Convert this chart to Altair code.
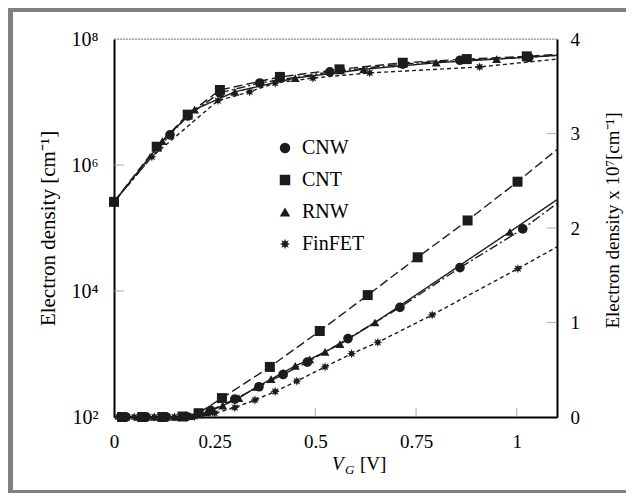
import math
import altair as alt
import pandas as pd

devices = ["CNW", "CNT", "RNW", "FinFET"]

# ---- upper curves: left logarithmic axis, electron density [cm^-1] ----
cnw_log_vg = [0.0, 0.139, 0.183, 0.263, 0.362, 0.536, 0.717, 0.859, 1.03, 1.1]
cnw_log_n = [2.6e5, 3.0e6, 6.0e6, 1.4e7, 2.0e7, 3.0e7, 4.0e7, 4.6e7, 5.1e7, 5.5e7]
cnt_log_vg = [0.0, 0.106, 0.183, 0.263, 0.412, 0.56, 0.717, 0.876, 1.025, 1.1]
cnt_log_n = [2.6e5, 1.95e6, 6.3e6, 1.55e7, 2.5e7, 3.3e7, 4.2e7, 4.8e7, 5.3e7, 5.7e7]
rnw_log_vg = [0.0, 0.12, 0.20, 0.30, 0.45, 0.62, 0.80, 0.95, 1.1]
rnw_log_n = [2.6e5, 2.4e6, 7.6e6, 1.45e7, 2.4e7, 3.3e7, 4.2e7, 4.8e7, 5.5e7]
fin_log_vg = [0.0, 0.094, 0.258, 0.337, 0.40, 0.494, 0.635, 0.908, 1.1]
fin_log_n = [2.6e5, 1.35e6, 1.05e7, 1.45e7, 2.0e7, 2.4e7, 2.9e7, 3.6e7, 4.8e7]

# ---- lower curves: right linear axis, electron density x 10^7 [cm^-1] ----
cnw_lin_vg = [0.03, 0.08, 0.13, 0.18, 0.24, 0.30, 0.36, 0.42, 0.48, 0.581, 0.710, 0.859, 1.015, 1.1]
cnw_lin_n = [0, 0, 0, 0.005, 0.07, 0.19, 0.32, 0.45, 0.58, 0.83, 1.16, 1.58, 1.99, 2.26]
cnt_lin_vg = [0.02, 0.07, 0.12, 0.17, 0.21, 0.268, 0.387, 0.511, 0.630, 0.754, 0.878, 1.002, 1.1]
cnt_lin_n = [0, 0, 0, 0.005, 0.04, 0.20, 0.53, 0.91, 1.29, 1.69, 2.08, 2.49, 2.83]
rnw_lin_vg = [0.02, 0.06, 0.10, 0.15, 0.19, 0.23, 0.27, 0.31, 0.355, 0.39, 0.42, 0.45, 0.486,
              0.524, 0.561, 0.648, 0.983, 1.1]
rnw_lin_n = [0, 0, 0, 0, 0.01, 0.05, 0.12, 0.20, 0.32, 0.40, 0.47, 0.54, 0.61,
             0.69, 0.77, 1.00, 1.96, 2.30]
fin_lin_vg = [0.01, 0.05, 0.10, 0.15, 0.20, 0.25, 0.30, 0.35, 0.40, 0.454, 0.524, 0.59,
              0.655, 0.79, 1.003, 1.1]
fin_lin_n = [0, 0, 0, 0, 0.005, 0.04, 0.10, 0.18, 0.27, 0.38, 0.53, 0.67,
             0.79, 1.08, 1.57, 1.80]

x_tick_labels = [0, 0.25, 0.5, 0.75, 1]
x_inner_ticks = [0.5, 0.75, 1.0]
left_tick_labels = [1e2, 1e4, 1e6, 1e8]
left_inner_ticks = [1e4, 1e6]
right_tick_labels = [0, 1, 2, 3, 4]
right_inner_ticks = [1, 2, 3]

# ---- layout / style ----
W, H = 443, 378
PL, PT = 106, 31
SVG_W, SVG_H = 618, 485
FONT = "Liberation Serif"
INK = "#1c1c1c"
GREY = "#808080"

rows = []
def add(dev, kind, vgs, ns):
    for v, n in zip(vgs, ns):
        rows.append({"device": dev, "dev_line": dev, "dev_size": dev, "kind": kind,
                     "vg": v, "n": n, "mk": v < 1.09})

add("CNW", "log", cnw_log_vg, cnw_log_n)
add("CNT", "log", cnt_log_vg, cnt_log_n)
add("RNW", "log", rnw_log_vg, rnw_log_n)
add("FinFET", "log", fin_log_vg, fin_log_n)
add("CNW", "lin", cnw_lin_vg, cnw_lin_n)
add("CNT", "lin", cnt_lin_vg, cnt_lin_n)
add("RNW", "lin", rnw_lin_vg, rnw_lin_n)
add("FinFET", "lin", fin_lin_vg, fin_lin_n)
df = pd.DataFrame(rows)
df_log = df[df.kind == "log"].reset_index(drop=True)
df_lin = df[df.kind == "lin"].reset_index(drop=True)

# asterisk-like star symbol
pts = []
for k in range(16):
    a = k * math.pi / 8
    r = 1.0 if k % 2 == 0 else 0.5
    pts.append(f"{r * math.sin(a):.3f},{-r * math.cos(a):.3f}")
star = "M" + "L".join(pts) + "Z"

shape_of = {"CNW": "circle", "CNT": "square", "RNW": "triangle-up", "FinFET": star}
dash_of = {"CNW": [9, 3, 2, 3], "CNT": [9, 4], "RNW": [1, 0], "FinFET": [4, 3]}
size_of = {"CNW": 80, "CNT": 100, "RNW": 90, "FinFET": 190}
# style scales use an alphabetical domain so their (hidden) legends stay separate
style_domain = sorted(devices)

x_scale = alt.Scale(domain=[0, 1.1], nice=False, zero=False)
x_axis = alt.Axis(values=x_tick_labels, labelExpr="datum.value + ''", title=None, ticks=False,
                  grid=False, domainColor="black", domainWidth=2, labelFontSize=19,
                  labelPadding=15, labelFlush=False, labelColor="black", labelFont=FONT)
X = alt.X("vg:Q", scale=x_scale, axis=x_axis)

ly_scale = alt.Scale(type="log", domain=[1e2, 1e8], nice=False)
ly_axis = alt.Axis(orient="left", values=left_tick_labels,
                   labelExpr="datum.value == 100 ? '10²' : datum.value == 10000 ? '10⁴' : datum.value == 1000000 ? '10⁶' : '10⁸'",
                   ticks=False, grid=False, domainColor="black", domainWidth=2,
                   labelFontSize=20, labelPadding=16, labelColor="black", labelFont=FONT,
                   title="Electron density [cm⁻¹]", titleFontSize=21, titleFontWeight="normal",
                   titleFont=FONT, titleColor="black", titleX=-66, titleY=H / 2,
                   titleAngle=270, titleBaseline="middle", titleAlign="center")
LY = alt.Y("n:Q", scale=ly_scale, axis=ly_axis)

ry_scale = alt.Scale(domain=[0, 4], nice=False, zero=False)
ry_axis = alt.Axis(orient="right", values=right_tick_labels, ticks=False, grid=False,
                   domainColor="black", domainWidth=2, labelFontSize=19, labelPadding=13,
                   labelColor="black", labelFont=FONT,
                   title="Electron density x 10⁷[cm⁻¹]", titleFontSize=19,
                   titleFontWeight="normal", titleFont=FONT, titleColor="black",
                   titleX=55, titleY=181, titleAngle=270, titleBaseline="middle",
                   titleAlign="center")
RY = alt.Y("n:Q", scale=ry_scale, axis=ry_axis)

legend = alt.Legend(title=None, orient="none", legendX=161, legendY=99, symbolSize=110,
                    symbolFillColor=INK, symbolStrokeColor=INK,
                    labelFont=FONT, labelFontSize=20, labelColor="black", rowPadding=12,
                    labelOffset=7, padding=0)
shape_enc = alt.Shape("device:N", scale=alt.Scale(domain=devices,
                      range=[shape_of[d] for d in devices]), legend=legend)
size_enc = alt.Size("dev_size:N", scale=alt.Scale(domain=style_domain,
                    range=[size_of[d] for d in style_domain]), legend=None)
dash_enc = alt.StrokeDash("dev_line:N", scale=alt.Scale(domain=style_domain,
                          range=[dash_of[d] for d in style_domain]), legend=None)

def lines(data, Y):
    return alt.Chart(data).mark_line(color=INK, strokeWidth=1.4).encode(
        x=X, y=Y, strokeDash=dash_enc, order="vg:Q")

def points(data, Y):
    return alt.Chart(data).transform_filter("datum.mk").mark_point(
        filled=True, opacity=1, color=INK, strokeWidth=0).encode(
        x=X, y=Y, shape=shape_enc, size=size_enc)

x_ticks = alt.Chart(pd.DataFrame({"vg": x_inner_ticks})).mark_tick(
    orient="vertical", size=9, thickness=1.2, color="#999999").encode(
    x=X, y=alt.value(H - 4.5))
l_ticks = alt.Chart(pd.DataFrame({"n": left_inner_ticks})).mark_tick(
    orient="horizontal", size=10, thickness=1.2, color="#999999").encode(
    y=LY, x=alt.value(5))
r_ticks = alt.Chart(pd.DataFrame({"n": right_inner_ticks})).mark_tick(
    orient="horizontal", size=10, thickness=1.2, color="#999999").encode(
    y=RY, x=alt.value(W - 5))

left = alt.layer(lines(df_log, LY), points(df_log, LY), l_ticks, x_ticks)
right = alt.layer(lines(df_lin, RY), points(df_lin, RY), r_ticks)

one = pd.DataFrame({"a": [0]})
top_border = alt.Chart(one).mark_rule(color="#8a8a8a", strokeWidth=1, strokeDash=[2, 1]).encode(
    x=alt.value(0), x2=alt.value(W), y=alt.value(0))
frame_left = alt.Chart(one).mark_rule(color=GREY, strokeWidth=5).encode(
    x=alt.value(-PL + 2.5), y=alt.value(-PT), y2=alt.value(SVG_H - PT))
frame_top = alt.Chart(one).mark_rule(color=GREY, strokeWidth=4).encode(
    x=alt.value(-PL), x2=alt.value(SVG_W - PL), y=alt.value(-PT + 2))
frame_bottom = alt.Chart(one).mark_rule(color=GREY, strokeWidth=3).encode(
    x=alt.value(-PL), x2=alt.value(SVG_W - PL), y=alt.value(SVG_H - PT - 1.5))

t_v = alt.Chart(one).mark_text(text="V", font=FONT, fontSize=19, fontStyle="italic",
                               align="left", baseline="alphabetic", color="black").encode(
    x=alt.value(218), y=alt.value(431))
t_g = alt.Chart(one).mark_text(text="G", font=FONT, fontSize=13, fontStyle="italic",
                               align="left", baseline="alphabetic", color="black").encode(
    x=alt.value(231), y=alt.value(435))
t_u = alt.Chart(one).mark_text(text="[V]", font=FONT, fontSize=19,
                               align="left", baseline="alphabetic", color="black").encode(
    x=alt.value(246), y=alt.value(431))

chart = alt.layer(left, right, top_border, frame_left, frame_top, frame_bottom, t_v, t_g, t_u
).resolve_scale(y="independent").properties(
    width=W, height=H,
    padding={"left": PL, "top": PT, "right": SVG_W - PL - W, "bottom": SVG_H - PT - H},
    autosize=alt.AutoSizeParams(type="none"),
).configure_view(stroke=None).configure(font=FONT).configure_legend(
    labelFont=FONT, labelFontSize=20, labelColor="black")

chart.save("out.html", embed_options={"renderer": "svg", "actions": False})
